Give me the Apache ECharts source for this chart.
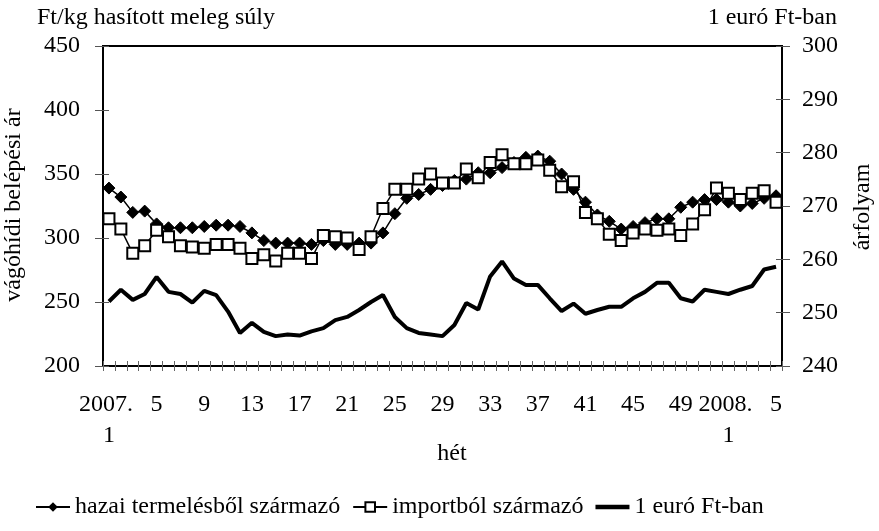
<!DOCTYPE html>
<html>
<head>
<meta charset="utf-8">
<script src="https://cdn.jsdelivr.net/npm/echarts@6/dist/echarts.min.js"></script>
<style>
  html, body { margin: 0; padding: 0; background: #fff; }
  #chart { width: 879px; height: 531px; }
</style>
</head>
<body>
<div id="chart"></div>
<script>
// hetek: 2007. 1-52, 2008. 1-5
const weeks = [];
for (let w = 1; w <= 52; w++) weeks.push(w === 1 ? '2007. \n1' : String(w));
for (let w = 1; w <= 5; w++) weeks.push(w === 1 ? '2008. \n1' : String(w));

// vágóhídi belépési ár, Ft/kg
const hazai = [339, 332, 320, 321, 311, 308, 308, 308, 309, 310, 310, 309, 304, 298, 296,
  296, 296, 295, 298, 295, 295, 296, 296, 304, 319, 331, 334, 338, 341, 345,
  346, 351, 351, 355, 359, 363, 364, 360, 350, 338, 328, 318, 313, 307, 309,
  312, 315, 315, 324, 328, 330, 330, 328, 325, 327, 331, 333];
const import_ = [315, 307, 288, 294, 306, 301, 294, 293, 292, 295, 295, 292, 284, 287, 282,
  288, 288, 284, 302, 301, 300, 291, 301, 323, 338, 338, 346, 350, 343, 343,
  354, 347, 359, 365, 358, 358, 361, 353, 340, 344, 320, 315, 303, 298, 304,
  307, 306, 307, 302, 311, 322, 339, 335, 330, 335, 337, 328];
// 1 euró Ft-ban
const euro = [252.1, 254.3, 252.4, 253.5, 256.7, 253.9, 253.5, 251.9, 254.1, 253.3, 250.2, 246.2, 248.1, 246.4, 245.6,
  245.9, 245.7, 246.5, 247.1, 248.6, 249.2, 250.5, 252.0, 253.3, 249.2, 247.1, 246.2, 245.9, 245.6, 247.7,
  251.8, 250.6, 256.8, 259.6, 256.4, 255.2, 255.2, 252.7, 250.3, 251.7, 249.8, 250.5, 251.1, 251.1, 252.7,
  253.9, 255.6, 255.6, 252.7, 252.1, 254.3, 253.9, 253.5, 254.3, 255.0, 258.1, 258.6];

const leftTicks = { min: 200, max: 450, interval: 50 };
const rightTicks = { min: 240, max: 300, interval: 10 };

const FONT = 'Liberation Serif';
const txt = { fontFamily: FONT, fontSize: 24, color: '#000' };

const chart = echarts.init(document.getElementById('chart'));

// külön tengely csak a befelé álló osztásokhoz (keresztező osztásjelek)
function innerY(pos, t) {
  return {
    type: 'value', position: pos, min: t.min, max: t.max, interval: t.interval,
    axisLine: { show: false }, axisLabel: { show: false }, splitLine: { show: false },
    axisTick: { show: true, inside: true, length: 6, lineStyle: { color: '#555', width: 1 } }
  };
}

chart.setOption({
  animation: false,
  textStyle: { fontFamily: FONT },
  grid: { left: 103, right: 97, top: 46, bottom: 165, show: true, borderColor: '#000', borderWidth: 2 },
  xAxis: [
    {
      type: 'category', data: weeks, boundaryGap: true,
      axisLine: { lineStyle: { color: '#000', width: 2 } },
      axisTick: { show: true, interval: 0, length: 5, lineStyle: { color: '#666', width: 1 } },
      axisLabel: { interval: 3, margin: 23, lineHeight: 31, ...txt }
    },
    {
      type: 'category', data: weeks, position: 'bottom',
      axisLine: { show: false }, axisLabel: { show: false },
      axisTick: { show: true, inside: true, interval: 0, length: 5, lineStyle: { color: '#666', width: 1 } }
    }
  ],
  yAxis: [
    {
      type: 'value', position: 'left', ...leftTicks,
      axisLine: { show: true, lineStyle: { color: '#000', width: 2 } },
      axisTick: { show: true, length: 8, lineStyle: { color: '#555', width: 1 } },
      axisLabel: { margin: 23, ...txt },
      splitLine: { show: false }
    },
    {
      type: 'value', position: 'right', ...rightTicks,
      axisLine: { show: true, lineStyle: { color: '#000', width: 2 } },
      axisTick: { show: true, length: 8, lineStyle: { color: '#555', width: 1 } },
      axisLabel: { margin: 20, ...txt },
      splitLine: { show: false }
    },
    innerY('left', leftTicks),
    innerY('right', rightTicks)
  ],
  legend: {
    top: 490, left: 30,
    itemWidth: 34, itemHeight: 12, itemGap: 12,
    textStyle: { fontFamily: FONT, fontSize: 24, color: '#000' },
    data: [
      { name: 'hazai termelésből származó' },
      { name: 'importból származó' },
      { name: '1 euró Ft-ban', icon: 'path://M0,0H36V5H0Z' }
    ]
  },
  graphic: [
    { type: 'text', left: 37, top: 6, style: { text: 'Ft/kg hasított meleg súly', font: '24px "Liberation Serif"', fill: '#000' } },
    { type: 'text', right: 42, top: 6, style: { text: '1 euró Ft-ban', font: '24px "Liberation Serif"', fill: '#000' } },
    { type: 'text', x: 14, y: 205, rotation: Math.PI / 2, style: { text: 'vágóhídi belépési ár', font: '24px "Liberation Serif"', fill: '#000', align: 'center', verticalAlign: 'middle' } },
    { type: 'text', x: 863, y: 207, rotation: Math.PI / 2, style: { text: 'árfolyam', font: '24px "Liberation Serif"', fill: '#000', align: 'center', verticalAlign: 'middle' } },
    { type: 'text', x: 452, y: 454, style: { text: 'hét', font: '24px "Liberation Serif"', fill: '#000', align: 'center', verticalAlign: 'middle' } }
  ],
  series: [
    {
      name: 'hazai termelésből származó', type: 'line', data: hazai,
      symbol: 'diamond', symbolSize: 12, showAllSymbol: true,
      lineStyle: { color: '#000', width: 1.5 },
      itemStyle: { color: '#000', borderColor: '#000' }
    },
    {
      name: 'importból származó', type: 'line', data: import_,
      symbol: 'rect', symbolSize: 11, showAllSymbol: true,
      lineStyle: { color: '#000', width: 1.5 },
      itemStyle: { color: '#fff', borderColor: '#000', borderWidth: 2 }
    },
    {
      name: '1 euró Ft-ban', type: 'line', data: euro, yAxisIndex: 1,
      showSymbol: false, symbol: 'none',
      lineStyle: { color: '#000', width: 4 },
      itemStyle: { color: '#000' }
    }
  ]
});
</script>
</body>
</html>
